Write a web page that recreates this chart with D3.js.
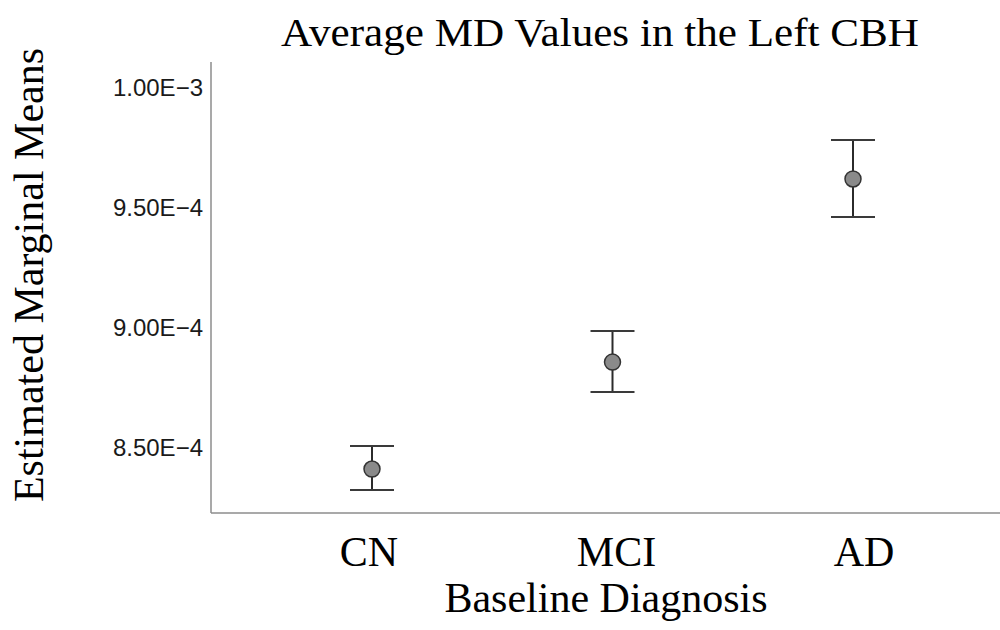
<!DOCTYPE html>
<html>
<head>
<meta charset="utf-8">
<script src="https://cdn.jsdelivr.net/npm/d3@7/dist/d3.min.js"></script>
<style>
  html, body { margin: 0; padding: 0; background: #fff; }
  svg { display: block; }
</style>
</head>
<body>
<svg id="chart" width="1000" height="630"></svg>
<script>
// ---- data ----
const categories = ["CN", "MCI", "AD"];
const means      = [8.4125e-4, 8.858e-4, 9.621e-4];
const upper      = [8.508e-4, 8.9875e-4, 9.783e-4];
const lower      = [8.325e-4, 8.733e-4, 9.4625e-4];
const yTicks     = [8.5e-4, 9.0e-4, 9.5e-4, 1.0e-3];
const yTickLabels = ["8.50E\u22124", "9.00E\u22124", "9.50E\u22124", "1.00E\u22123"];
const titleText  = "Average MD Values in the Left CBH";
const xTitle     = "Baseline Diagnosis";
const yTitle     = "Estimated Marginal Means";

// ---- layout ----
const svg = d3.select("#chart");
const plot = { left: 211, right: 1000, top: 62, bottom: 513 };

const y = d3.scaleLinear().domain([8.2292e-4, 1.01083e-3]).range([plot.bottom, plot.top]);
const x = d3.scalePoint().domain(categories).range([372, 853]);
const xLab = d3.scalePoint().domain(categories).range([369, 864]);

const serif = "'Liberation Serif', 'Times New Roman', Times, serif";
const sans = "'Liberation Sans', Arial, Helvetica, sans-serif";

// y axis
const yAxis = d3.axisLeft(y)
  .tickValues(yTicks)
  .tickFormat((d, i) => yTickLabels[i])
  .tickSize(0)
  .tickPadding(8);
const gy = svg.append("g").attr("transform", `translate(${plot.left},0)`).call(yAxis);
gy.select(".domain").remove();
gy.selectAll("text")
  .attr("font-family", sans)
  .attr("font-size", 24)
  .attr("fill", "#1a1a1a");

// axis lines
svg.append("line")
  .attr("x1", plot.left).attr("x2", plot.left)
  .attr("y1", plot.top).attr("y2", plot.bottom)
  .attr("stroke", "#8c8c8c").attr("stroke-width", 1.5);
svg.append("line")
  .attr("x1", plot.left).attr("x2", plot.right)
  .attr("y1", plot.bottom).attr("y2", plot.bottom)
  .attr("stroke", "#8c8c8c").attr("stroke-width", 1.5);

// error bars
const capHalf = 22;
const g = svg.append("g");
categories.forEach((c, i) => {
  const cx = x(c);
  g.append("line")
    .attr("x1", cx).attr("x2", cx)
    .attr("y1", y(upper[i])).attr("y2", y(lower[i]))
    .attr("stroke", "#2b2b2b").attr("stroke-width", 2);
  [upper[i], lower[i]].forEach(v => {
    g.append("line")
      .attr("x1", cx - capHalf).attr("x2", cx + capHalf)
      .attr("y1", y(v)).attr("y2", y(v))
      .attr("stroke", "#3a3a3a").attr("stroke-width", 2);
  });
  g.append("circle")
    .attr("cx", cx).attr("cy", y(means[i]))
    .attr("r", 8)
    .attr("fill", "#8a8a8a")
    .attr("stroke", "#333").attr("stroke-width", 1.5);
});

// category labels
svg.append("g").selectAll("text")
  .data(categories).join("text")
  .attr("x", d => xLab(d))
  .attr("y", 566)
  .attr("text-anchor", "middle")
  .attr("font-family", serif)
  .attr("font-size", 42)
  .attr("fill", "#000")
  .text(d => d);

// x title
svg.append("text")
  .attr("x", 606).attr("y", 612)
  .attr("text-anchor", "middle")
  .attr("font-family", serif).attr("font-size", 42)
  .attr("fill", "#000")
  .text(xTitle);

// y title
svg.append("text")
  .attr("transform", "translate(43,275) rotate(-90)")
  .attr("text-anchor", "middle")
  .attr("font-family", serif).attr("font-size", 42)
  .attr("fill", "#000")
  .text(yTitle);

// main title
svg.append("text")
  .attr("x", 600).attr("y", 46)
  .attr("text-anchor", "middle")
  .attr("font-family", serif).attr("font-size", 40)
  .attr("textLength", 638).attr("lengthAdjust", "spacingAndGlyphs")
  .attr("fill", "#000")
  .text(titleText);
</script>
</body>
</html>
